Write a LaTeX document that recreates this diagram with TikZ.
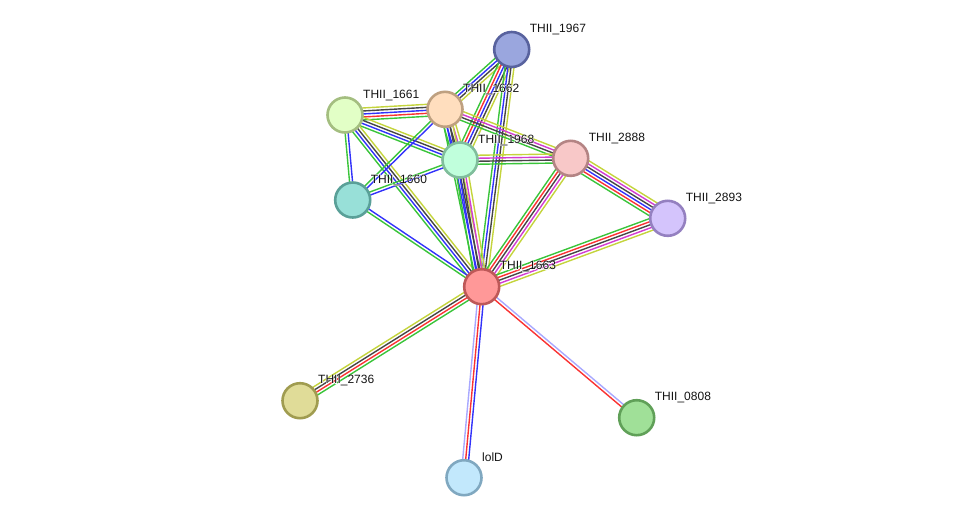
\documentclass[tikz,border=0pt]{standalone}
\usepackage{fontspec}
\setmainfont{Liberation Sans}
\newfontfamily\halofont[FakeBold=6]{Liberation Sans}
\usetikzlibrary{calc,backgrounds}
\definecolor{cE}{RGB}{58,196,58}
\definecolor{cR}{RGB}{250,50,50}
\definecolor{cB}{RGB}{50,50,250}
\definecolor{cK}{RGB}{70,70,70}
\definecolor{cM}{RGB}{210,60,210}
\definecolor{cY}{RGB}{196,212,60}
\definecolor{cL}{RGB}{168,168,255}
\newcommand{\halotext}[1]{\makebox[0pt][l]{\halofont\color{white}#1}#1}
\tikzset{
  ln/.style={line width=1.4pt},
  ge/.style={ln,draw=cE}, gr/.style={ln,draw=cR}, gb/.style={ln,draw=cB},
  gk/.style={ln,draw=cK}, gm/.style={ln,draw=cM}, gy/.style={ln,draw=cY},
  gl/.style={ln,draw=cL},
  prot/.style={circle,minimum size=35pt,inner sep=0pt,line width=2.6pt},
  lab/.style={anchor=west,font=\fontsize{12pt}{12pt}\selectfont,inner sep=0pt,text=black!92}
}
\newcommand{\stredge}[4]{%
  \foreach \cc [count=\ii] in {#4} {%
    \pgfmathsetmacro\oo{(\ii-(#3+1)/2)*3}%
    \draw[\cc] ($(#1.center)!\oo pt!90:(#2.center)$) -- ($(#2.center)!\oo pt!-90:(#1.center)$);
  }%
}
\begin{document}
\begin{tikzpicture}[x=1pt,y=-1pt]
\useasboundingbox (0,0) rectangle (975,523);
\node[prot,fill={rgb,255:red,154;green,166;blue,222},draw={rgb,255:red,88;green,98;blue,158}] (n1967) at (511.7,49.5) {};
\node[prot,fill={rgb,255:red,226;green,255;blue,198},draw={rgb,255:red,164;green,190;blue,128}] (n1661) at (345,115) {};
\node[prot,fill={rgb,255:red,255;green,222;blue,190},draw={rgb,255:red,190;green,160;blue,128}] (n1662) at (445,109.3) {};
\node[prot,fill={rgb,255:red,192;green,255;blue,220},draw={rgb,255:red,128;green,190;blue,156}] (n1968) at (460,160) {};
\node[prot,fill={rgb,255:red,248;green,200;blue,200},draw={rgb,255:red,180;green,132;blue,132}] (n2888) at (570.7,158.3) {};
\node[prot,fill={rgb,255:red,152;green,224;blue,216},draw={rgb,255:red,90;green,160;blue,152}] (n1660) at (352.7,200) {};
\node[prot,fill={rgb,255:red,212;green,196;blue,252},draw={rgb,255:red,148;green,128;blue,192}] (n2893) at (667.7,218.3) {};
\node[prot,fill={rgb,255:red,255;green,152;blue,152},draw={rgb,255:red,190;green,88;blue,88}] (n1663) at (481.7,286.7) {};
\node[prot,fill={rgb,255:red,224;green,220;blue,152},draw={rgb,255:red,160;green,156;blue,80}] (n2736) at (300,400.7) {};
\node[prot,fill={rgb,255:red,160;green,224;blue,152},draw={rgb,255:red,96;green,160;blue,88}] (n0808) at (636.7,417.7) {};
\node[prot,fill={rgb,255:red,194;green,232;blue,252},draw={rgb,255:red,128;green,168;blue,192}] (nlolD) at (464,477.7) {};
\begin{scope}[on background layer]
\stredge{n1967}{n1662}{4}{ge,gb,gk,gy}
\stredge{n1967}{n1968}{5}{ge,gr,gb,gk,gy}
\stredge{n1967}{n1663}{4}{ge,gb,gk,gy}
\stredge{n1661}{n1662}{5}{ge,gr,gb,gk,gy}
\stredge{n1661}{n1968}{4}{ge,gb,gk,gy}
\stredge{n1661}{n1660}{2}{ge,gb}
\stredge{n1661}{n1663}{4}{ge,gb,gk,gy}
\stredge{n1662}{n1968}{5}{ge,gb,gk,gm,gy}
\stredge{n1662}{n2888}{4}{ge,gk,gm,gy}
\stredge{n1662}{n1663}{4}{ge,gb,gk,gy}
\stredge{n1662}{n1660}{2}{ge,gb}
\stredge{n1968}{n2888}{4}{ge,gk,gm,gy}
\stredge{n1968}{n1660}{2}{ge,gb}
\stredge{n1968}{n1663}{5}{ge,gb,gk,gm,gy}
\stredge{n2888}{n2893}{6}{ge,gr,gb,gk,gm,gy}
\stredge{n2888}{n1663}{5}{ge,gr,gk,gm,gy}
\stredge{n2893}{n1663}{5}{ge,gr,gk,gm,gy}
\stredge{n1660}{n1663}{2}{ge,gb}
\stredge{n1663}{n2736}{4}{gy,gk,gr,ge}
\stredge{n1663}{nlolD}{3}{gl,gr,gb}
\stredge{n1663}{n0808}{2}{gr,gl}
\end{scope}
\node[lab] (l1967) at ($(n1967)+(18,-20)$) {\halotext{THII\_1967}};
\node[lab] (l1661) at ($(n1661)+(18,-20)$) {\halotext{THII\_1661}};
\node[lab] (l1662) at ($(n1662)+(18,-20)$) {\halotext{THII\_1662}};
\node[lab] (l1968) at ($(n1968)+(18,-20)$) {\halotext{THII\_1968}};
\node[lab] (l2888) at ($(n2888)+(18,-20)$) {\halotext{THII\_2888}};
\node[lab] (l1660) at ($(n1660)+(18,-20)$) {\halotext{THII\_1660}};
\node[lab] (l2893) at ($(n2893)+(18,-20)$) {\halotext{THII\_2893}};
\node[lab] (l1663) at ($(n1663)+(18,-20)$) {\halotext{THII\_1663}};
\node[lab] (l2736) at ($(n2736)+(18,-20)$) {\halotext{THII\_2736}};
\node[lab] (l0808) at ($(n0808)+(18,-20)$) {\halotext{THII\_0808}};
\node[lab] (llolD) at ($(nlolD)+(18,-20)$) {\halotext{lolD}};
\end{tikzpicture}
\end{document}
